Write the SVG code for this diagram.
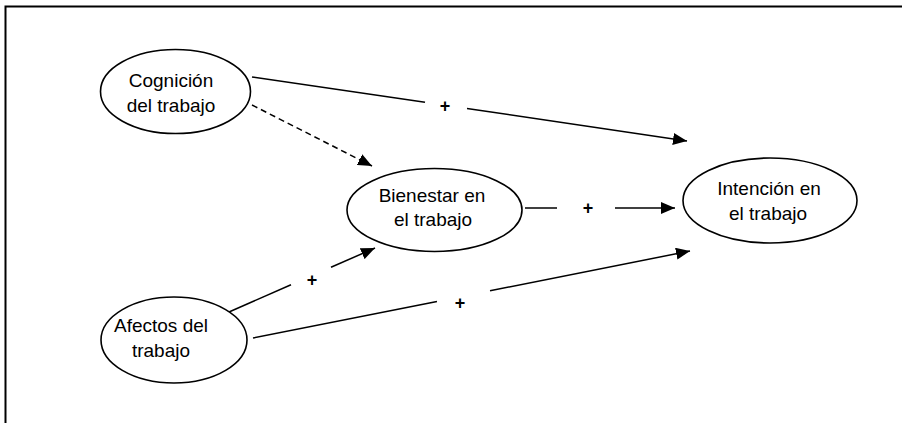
<svg xmlns="http://www.w3.org/2000/svg" width="902" height="423" viewBox="0 0 902 423">
<defs>
<style>
.node ellipse{fill:#fff;stroke:#000;stroke-width:1.6}
.lbl{font-family:"Liberation Sans",Arial,sans-serif;font-size:19px;fill:#000;text-anchor:middle}
.plus{font-family:"Liberation Sans",Arial,sans-serif;font-size:18px;font-weight:bold;fill:#000;text-anchor:middle}
.edge{stroke:#000;stroke-width:1.5;fill:none}
.dash{stroke-dasharray:6 4}
</style>
<marker id="arr" markerUnits="userSpaceOnUse" markerWidth="14" markerHeight="12" viewBox="0 0 14 12" refX="14" refY="6" orient="auto">
<path d="M0,0 L14,6 L0,12 Z" fill="#000"/>
</marker>
</defs>
<rect width="902" height="423" fill="#fff"/>
<path d="M5.5,423 V6.5 H902" fill="none" stroke="#000" stroke-width="2"/>
<g id="connectors">
<path class="edge" d="M252,77 L425,102.3"/>
<path class="edge" d="M467,108.5 L687,141" marker-end="url(#arr)"/>
<path class="edge dash" d="M252,105 L372,166" marker-end="url(#arr)"/>
<path class="edge" d="M525,208 L557,208"/>
<path class="edge" d="M615,208 L675,208" marker-end="url(#arr)"/>
<path class="edge" d="M229,312 L291,284.8"/>
<path class="edge" d="M331,267.3 L375,248" marker-end="url(#arr)"/>
<path class="edge" d="M253,338 L437,301.4"/>
<path class="edge" d="M490,290.8 L690,251" marker-end="url(#arr)"/>
<text class="plus" x="445" y="112">+</text>
<text class="plus" x="588" y="214">+</text>
<text class="plus" x="312" y="286">+</text>
<text class="plus" x="460" y="309">+</text>
</g>
<g id="cognicion" class="node">
<ellipse cx="175.5" cy="91.5" rx="75" ry="42"/>
<text class="lbl" x="171" y="87">Cognición</text>
<text class="lbl" x="171" y="112">del trabajo</text>
</g>
<g id="bienestar" class="node">
<ellipse cx="434.5" cy="210" rx="87.5" ry="41.5"/>
<text class="lbl" x="432" y="202">Bienestar en</text>
<text class="lbl" x="433" y="226">el trabajo</text>
</g>
<g id="intencion" class="node">
<ellipse cx="770" cy="200.5" rx="87" ry="42.5"/>
<text class="lbl" x="769" y="195">Intención en</text>
<text class="lbl" x="768" y="220">el trabajo</text>
</g>
<g id="afectos" class="node">
<ellipse cx="174" cy="340" rx="73" ry="43"/>
<text class="lbl" x="161" y="332">Afectos del</text>
<text class="lbl" x="161" y="357">trabajo</text>
</g>
</svg>
